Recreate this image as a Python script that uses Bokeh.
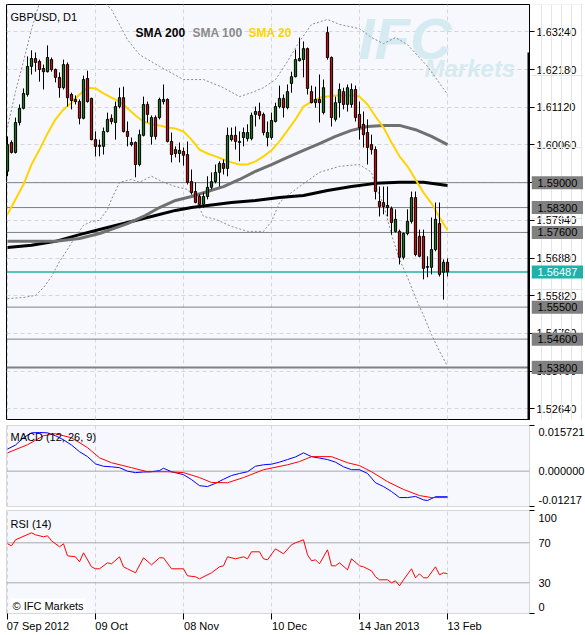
from bokeh.plotting import figure
from bokeh.models import ColumnDataSource, FixedTicker, Range1d, Label, Span, PrintfTickFormatter
from bokeh.layouts import column, row
from bokeh.core.properties import value
from bokeh.embed import file_html
from bokeh.resources import INLINE

# ---------------- data ----------------
date_labels = ["07 Sep 2012", "09 Oct", "08 Nov", "10 Dec", "14 Jan 2013", "13 Feb"]
date_index = [0, 22, 44, 66, 88, 110]

opens = [1.5932, 1.6013, 1.5985, 1.6069, 1.6109, 1.6148, 1.6227, 1.6249, 1.6241, 1.6221,
         1.6212, 1.6246, 1.6218, 1.6196, 1.6167, 1.6232, 1.6148, 1.6134, 1.6128, 1.6081,
         1.6193, 1.6137, 1.6021, 1.6005, 1.6002, 1.6044, 1.6081, 1.6069, 1.6114, 1.6139,
         1.6044, 1.6007, 1.6013, 1.5951, 1.6033, 1.6120, 1.6030, 1.6083, 1.6083, 1.6128,
         1.6134, 1.6016, 1.5993, 1.5982, 1.5988, 1.5979, 1.5903, 1.5875, 1.5861, 1.5839,
         1.5861, 1.5887, 1.5903, 1.5929, 1.5954, 1.5940, 1.6021, 1.6033, 1.6013, 1.6027,
         1.6024, 1.6024, 1.6092, 1.6100, 1.6092, 1.6027, 1.6027, 1.6072, 1.6114, 1.6137,
         1.6111, 1.6179, 1.6198, 1.6243, 1.6246, 1.6277, 1.6156, 1.6125, 1.6134, 1.6097,
         1.6322, 1.6252, 1.6078, 1.6125, 1.6156, 1.6120, 1.6120, 1.6162, 1.6092, 1.6064,
         1.6041, 1.6007, 1.5993, 1.5847, 1.5844, 1.5830, 1.5827, 1.5763, 1.5763, 1.5690,
         1.5757, 1.5791, 1.5858, 1.5749, 1.5749, 1.5662, 1.5662, 1.5712, 1.5785, 1.5648,
         1.5676]
highs = [1.6030, 1.6019, 1.6083, 1.6120, 1.6165, 1.6255, 1.6272, 1.6266, 1.6246, 1.6232,
         1.6286, 1.6252, 1.6221, 1.6210, 1.6246, 1.6238, 1.6153, 1.6145, 1.6134, 1.6201,
         1.6215, 1.6139, 1.6044, 1.6021, 1.6055, 1.6097, 1.6092, 1.6128, 1.6167, 1.6170,
         1.6072, 1.6027, 1.6016, 1.6049, 1.6142, 1.6128, 1.6089, 1.6089, 1.6139, 1.6176,
         1.6137, 1.6041, 1.6002, 1.6013, 1.5999, 1.6016, 1.5937, 1.5901, 1.5867, 1.5872,
         1.5918, 1.5929, 1.5951, 1.5960, 1.5965, 1.6055, 1.6055, 1.6058, 1.6044, 1.6055,
         1.6064, 1.6097, 1.6114, 1.6125, 1.6097, 1.6072, 1.6097, 1.6125, 1.6173, 1.6148,
         1.6176, 1.6212, 1.6274, 1.6308, 1.6297, 1.6280, 1.6173, 1.6170, 1.6204, 1.6190,
         1.6339, 1.6255, 1.6142, 1.6179, 1.6167, 1.6176, 1.6179, 1.6173, 1.6128, 1.6100,
         1.6078, 1.6035, 1.6002, 1.5889, 1.5889, 1.5889, 1.5833, 1.5825, 1.5768, 1.5760,
         1.5825, 1.5875, 1.5875, 1.5768, 1.5768, 1.5693, 1.5802, 1.5844, 1.5844, 1.5684,
         1.5687]
lows = [1.5918, 1.5982, 1.5982, 1.6061, 1.6106, 1.6142, 1.6204, 1.6212, 1.6184, 1.6162,
        1.6210, 1.6212, 1.6182, 1.6139, 1.6162, 1.6114, 1.6106, 1.6120, 1.6064, 1.6078,
        1.6125, 1.6019, 1.5974, 1.5974, 1.5979, 1.6041, 1.6064, 1.6021, 1.6109, 1.6041,
        1.6002, 1.6002, 1.5915, 1.5946, 1.6030, 1.6069, 1.6007, 1.6021, 1.6078, 1.6120,
        1.6013, 1.5957, 1.5971, 1.5957, 1.5948, 1.5895, 1.5867, 1.5842, 1.5833, 1.5830,
        1.5853, 1.5881, 1.5898, 1.5889, 1.5923, 1.5918, 1.6016, 1.5993, 1.5960, 1.6002,
        1.6016, 1.6019, 1.6058, 1.6078, 1.6033, 1.6002, 1.6021, 1.6069, 1.6109, 1.6083,
        1.6106, 1.6153, 1.6196, 1.6241, 1.6196, 1.6148, 1.6123, 1.6111, 1.6069, 1.6092,
        1.6246, 1.6058, 1.6072, 1.6083, 1.6106, 1.6100, 1.6111, 1.6072, 1.6021, 1.5999,
        1.5951, 1.5979, 1.5853, 1.5805, 1.5811, 1.5805, 1.5754, 1.5760, 1.5670, 1.5684,
        1.5752, 1.5785, 1.5693, 1.5690, 1.5628, 1.5634, 1.5642, 1.5707, 1.5636, 1.5571,
        1.5636]
closes = [1.6007, 1.5985, 1.6069, 1.6109, 1.6151, 1.6227, 1.6249, 1.6238, 1.6218, 1.6212,
          1.6252, 1.6218, 1.6196, 1.6167, 1.6232, 1.6139, 1.6131, 1.6128, 1.6081, 1.6190,
          1.6128, 1.6021, 1.6002, 1.6002, 1.6044, 1.6078, 1.6072, 1.6114, 1.6139, 1.6044,
          1.6030, 1.6013, 1.5951, 1.6035, 1.6120, 1.6092, 1.6083, 1.6030, 1.6134, 1.6134,
          1.6016, 1.5979, 1.5982, 1.5991, 1.5977, 1.5901, 1.5872, 1.5844, 1.5839, 1.5861,
          1.5887, 1.5903, 1.5929, 1.5954, 1.5940, 1.6033, 1.6033, 1.6016, 1.6016, 1.6041,
          1.6041, 1.6089, 1.6100, 1.6089, 1.6041, 1.6041, 1.6075, 1.6114, 1.6137, 1.6111,
          1.6156, 1.6198, 1.6246, 1.6249, 1.6277, 1.6165, 1.6125, 1.6134, 1.6125, 1.6167,
          1.6252, 1.6083, 1.6125, 1.6162, 1.6120, 1.6167, 1.6162, 1.6083, 1.6055, 1.6035,
          1.5999, 1.5993, 1.5875, 1.5833, 1.5833, 1.5836, 1.5788, 1.5797, 1.5690, 1.5757,
          1.5791, 1.5858, 1.5698, 1.5693, 1.5659, 1.5664, 1.5712, 1.5797, 1.5642, 1.5676,
          1.56487]

sma20_idx = [0, 4, 6, 8, 10, 12, 14, 16, 18, 20, 22, 24, 26, 28, 30, 32, 34, 36, 38, 40,
             42, 44, 46, 48, 50, 52, 54, 56, 58, 60, 62, 64, 66, 68, 70, 72, 74, 76, 78, 80,
             82, 84, 86, 88, 90, 92, 94, 96, 98, 100, 102, 104, 106, 108, 110]
sma20 = [1.5811, 1.5895, 1.5951, 1.5993, 1.6038, 1.6078, 1.6106, 1.6125, 1.6148, 1.6167,
         1.6165, 1.6151, 1.6139, 1.6128, 1.6109, 1.6089, 1.6072, 1.6064, 1.6061, 1.6055,
         1.6052, 1.6044, 1.6021, 1.5993, 1.5982, 1.5974, 1.5965, 1.5957, 1.5951, 1.5951,
         1.5960, 1.5974, 1.5991, 1.6016, 1.6047, 1.6078, 1.6114, 1.6128, 1.6139, 1.6142,
         1.6145, 1.6145, 1.6145, 1.6142, 1.6120, 1.6086, 1.6055, 1.6013, 1.5974, 1.5946,
         1.5909, 1.5872, 1.5842, 1.5802, 1.5766]

sma100_idx = [0, 6, 12, 18, 23, 30, 34, 38, 42, 46, 50, 54, 58, 62, 66, 70, 74, 78, 82, 86,
              90, 94, 98, 102, 106, 110]
sma100 = [1.5735, 1.5735, 1.5735, 1.5743, 1.5757, 1.5785, 1.5805, 1.5830, 1.5850, 1.5861,
          1.5875, 1.5889, 1.5909, 1.5932, 1.5951, 1.5971, 1.5991, 1.6010, 1.6030, 1.6047,
          1.6058, 1.6061, 1.6061, 1.6049, 1.6030, 1.6007]

sma200_idx = [0, 6, 12, 18, 24, 30, 36, 42, 46, 50, 56, 62, 68, 74, 80, 86, 92, 98, 104, 110]
sma200 = [1.5718, 1.5724, 1.5735, 1.5754, 1.5771, 1.5788, 1.5805, 1.5822, 1.5830, 1.5836,
          1.5844, 1.5850, 1.5858, 1.5864, 1.5878, 1.5889, 1.5898, 1.5901, 1.5901, 1.5892]

bb_up_idx = [0, 2, 4, 6, 8, 10, 14, 18, 22, 24, 26, 28, 30, 33, 38, 44, 49, 54, 58, 61,
             64, 67, 70, 73, 76, 80, 83, 88, 91, 94, 97, 100, 105, 110]
bb_up = [1.6055, 1.6156, 1.6241, 1.6331, 1.6406, 1.6457, 1.6485, 1.6485, 1.6457, 1.6409,
         1.6387, 1.6345, 1.6302, 1.6260, 1.6227, 1.6190, 1.6190, 1.6167, 1.6142, 1.6153,
         1.6167, 1.6190, 1.6241, 1.6297, 1.6345, 1.6359, 1.6345, 1.6333, 1.6308, 1.6291,
         1.6308, 1.6288, 1.6227, 1.6148]

bb_lo_idx = [0, 4, 7, 9, 11, 13, 15, 17, 19, 21, 23, 25, 26, 28, 31, 33, 36, 39, 42, 45,
             47, 49, 52, 56, 60, 64, 66, 68, 70, 73, 78, 83, 88, 91, 92, 94, 96, 98, 100, 102,
             104, 106, 108, 110]
bb_lo = [1.5574, 1.5577, 1.5583, 1.5605, 1.5636, 1.5678, 1.5712, 1.5749, 1.5780, 1.5791,
         1.5794, 1.5825, 1.5853, 1.5901, 1.5909, 1.5901, 1.5918, 1.5901, 1.5889, 1.5881,
         1.5853, 1.5805, 1.5797, 1.5777, 1.5763, 1.5763, 1.5791, 1.5844, 1.5864, 1.5889,
         1.5929, 1.5946, 1.5951, 1.5929, 1.5889, 1.5839, 1.5754, 1.5684, 1.5634, 1.5577,
         1.5527, 1.5473, 1.5426, 1.5384]

level_prices = [1.59000, 1.58300, 1.57600, 1.55500, 1.54600, 1.53800]
last_price = 1.56487
price_ticks = [1.52640, 1.53700, 1.54760, 1.55820, 1.56880, 1.57940, 1.59000,
               1.60060, 1.61120, 1.62180, 1.63240]

macd_idx = [0, 2, 4, 6, 8, 10, 12, 14, 16, 18, 20, 22, 24, 26, 28, 30, 32, 34, 36, 38,
            39, 41, 44, 46, 48, 50, 52, 54, 56, 58, 60, 62, 64, 66, 68, 70, 72, 74, 76, 78,
            80, 82, 84, 86, 88, 90, 92, 94, 96, 98, 100, 102, 104, 105, 107, 110]
macd = [0.0076, 0.0090, 0.0115, 0.0132, 0.0133, 0.0132, 0.0122, 0.0108, 0.0090, 0.0067,
        0.0050, 0.0025, 0.0017, 0.0015, 0.0012, 0.0000, -0.0005, -0.0003, -0.0002, 0.0002,
        0.0010, -0.0002, -0.0012, -0.0029, -0.0050, -0.0053, -0.0042, -0.0028, -0.0015, -0.0008,
        -0.0002, 0.0017, 0.0022, 0.0024, 0.0031, 0.0040, 0.0049, 0.0063, 0.0050, 0.0045,
        0.0040, 0.0031, 0.0015, 0.0005, 0.0005, -0.0008, -0.0040, -0.0053, -0.0070, -0.0091,
        -0.0091, -0.0087, -0.0099, -0.0101, -0.0088, -0.0088]
signal_idx = [0, 5, 9, 12, 16, 20, 23, 26, 31, 35, 40, 44, 48, 51, 55, 59, 64, 70, 73, 76,
              81, 85, 88, 91, 95, 99, 103, 106, 110]
signal = [0.0063, 0.0091, 0.0122, 0.0129, 0.0115, 0.0081, 0.0046, 0.0029, 0.0012, -0.0002,
          -0.0002, -0.0005, -0.0022, -0.0039, -0.0040, -0.0022, 0.0005, 0.0022, 0.0033, 0.0050,
          0.0050, 0.0029, 0.0019, -0.0002, -0.0036, -0.0063, -0.0084, -0.0091, -0.0091]
macd_top, macd_bottom = 0.015721, -0.01217

rsi_idx = [0, 1, 2, 6, 7, 9, 10, 11, 13, 14, 15, 17, 18, 19, 21, 22, 23, 25, 26, 28,
           29, 30, 32, 34, 36, 38, 39, 41, 44, 45, 47, 48, 51, 53, 54, 55, 57, 59, 60, 61,
           63, 64, 65, 67, 69, 71, 72, 74, 75, 76, 77, 78, 80, 81, 82, 83, 85, 86, 88, 89,
           91, 92, 93, 95, 96, 97, 98, 99, 101, 102, 103, 104, 105, 107, 108, 109, 110]
rsi = [69, 67, 73, 80, 78, 76, 77, 72, 66, 69, 57, 56, 51, 60, 46, 44, 44, 50, 49, 56,
       46, 44, 40, 55, 48, 55, 55, 44, 44, 37, 36, 34, 40, 46, 47, 56, 54, 56, 54, 61,
       61, 54, 53, 64, 59, 68, 70, 73, 58, 52, 53, 49, 63, 47, 47, 50, 43, 54, 47, 46,
       42, 36, 33, 33, 30, 32, 27, 33, 44, 35, 39, 35, 35, 46, 38, 40, 39]
rsi_levels = [70, 30]

# ---------------- style ----------------
FONT = "Liberation Sans"
BG = "#f7f8fd"
GRID = "#d6d6d6"
X0, X1 = -0.25, 130.5
FW = 523
MAIN_H = 415
xr = Range1d(X0, X1)


def make_fig(frame_h, yr, outline, bottom_border, with_xaxis=False):
    f = figure(frame_width=FW, frame_height=frame_h, x_range=xr, y_range=yr,
               output_backend="svg", toolbar_location=None, y_axis_location="right",
               x_axis_location="below" if with_xaxis else None,
               min_border_left=0, min_border_top=0, min_border_right=52,
               min_border_bottom=bottom_border)
    f.background_fill_color = BG
    f.border_fill_color = "white"
    f.outline_line_color = outline
    f.xgrid.ticker = FixedTicker(ticks=date_index)
    f.xgrid.grid_line_color = GRID
    f.xgrid.grid_line_dash = "4 3"
    ax = f.yaxis[0]
    ax.major_label_text_font = FONT
    ax.major_label_text_font_size = "11px"
    ax.major_label_text_color = "black"
    return f


# ---------------- main price panel ----------------
Y0, Y1 = 1.5234, 1.6401
yr_main = Range1d(Y0, Y1)
p = make_fig(MAIN_H, yr_main, "black", 6)
ya = p.yaxis[0]
ya.ticker = FixedTicker(ticks=price_ticks)
ya.formatter = PrintfTickFormatter(format="%.5f")
ya.major_tick_out = 5
ya.major_tick_in = 0
ya.minor_tick_line_color = None
ya.major_label_standoff = 2
ya.axis_line_color = "black"
p.ygrid.ticker = FixedTicker(ticks=price_ticks)
p.ygrid.grid_line_color = GRID
p.ygrid.grid_line_dash = "4 3"

for lv in level_prices:
    p.add_layout(Span(location=lv, dimension="width", line_color="#808080",
                      line_width=2 if lv == level_prices[-1] else 1, level="underlay"))
p.add_layout(Span(location=last_price, dimension="width", line_color="#20b2aa",
                  line_width=1.5, level="underlay"))

# watermark
p.add_layout(Label(x=X0, y=Y1, x_offset=352, y_offset=-34, text="IFC", text_font=FONT,
                   text_font_size="58px", text_font_style="bold italic", text_color="#d6ebf1",
                   text_baseline="middle", level="underlay"))
p.add_layout(Label(x=X0, y=Y1, x_offset=418, y_offset=-64, text="Markets", text_font=FONT,
                   text_font_size="24px", text_font_style="bold italic", text_color="#d6ebf1",
                   text_baseline="middle", level="underlay"))

# Bollinger bands and moving averages
p.line(bb_up_idx, bb_up, line_color="#8a8a8a", line_width=1, line_dash="2 2")
p.line(bb_lo_idx, bb_lo, line_color="#8a8a8a", line_width=1, line_dash="2 2")
p.line(sma200_idx, sma200, line_color="black", line_width=3)
p.line(sma100_idx, sma100, line_color="#707070", line_width=3)
p.line(sma20_idx, sma20, line_color="#ffd400", line_width=2)

# candles
idx = list(range(len(closes)))
up = [c >= o for o, c in zip(opens, closes)]
src = ColumnDataSource(dict(
    x=idx, high=highs, low=lows,
    top=[max(o, c) for o, c in zip(opens, closes)],
    bottom=[min(o, c) for o, c in zip(opens, closes)],
    color=["#0a7d0a" if u else "#dd0000" for u in up]))
p.segment(x0="x", y0="low", x1="x", y1="high", source=src, line_color="black", line_width=1)
p.vbar(x="x", width=0.55, top="top", bottom="bottom", source=src,
       fill_color="color", line_color="black", line_width=1)

# thick part of the right edge
p.segment(x0=[X1], y0=[1.6266], x1=[X1], y1=[Y0], line_color="black", line_width=4)

# titles
p.add_layout(Label(x=X0, y=Y1, x_offset=4, y_offset=-12, text="GBPUSD, D1", text_font=FONT,
                   text_font_size="11px", text_color="black", text_baseline="middle"))
for txt, off, col in [("SMA 200", 129, "black"), ("SMA 100", 186, "#8a8a8a"),
                      ("SMA 20", 242, "#ffd400")]:
    p.add_layout(Label(x=X0, y=Y1, x_offset=off, y_offset=-28, text=txt, text_font=FONT,
                       text_font_size="12px", text_font_style="bold", text_color=col,
                       text_baseline="middle"))

# ---------------- price-level boxes, overlaid on the price axis ----------------
BW = 52
bf = figure(frame_width=BW, frame_height=MAIN_H, x_range=Range1d(0, BW), y_range=yr_main,
            output_backend="svg", toolbar_location=None, x_axis_location=None,
            y_axis_location=None, min_border_left=0, min_border_right=0, min_border_top=0,
            min_border_bottom=6, margin=(0, 0, 0, -50))
bf.background_fill_color = None
bf.border_fill_color = None
bf.outline_line_color = None
box_src = ColumnDataSource(dict(
    y=level_prices + [last_price],
    label=[f"{v:.5f}" for v in level_prices] + [f"{last_price:.5f}"],
    fill=["#808080"] * len(level_prices) + ["#20b2aa"],
    tcol=["black"] * len(level_prices) + ["white"]))
bf.rect(x=BW / 2, y="y", width=BW, height=13, height_units="screen", source=box_src,
        fill_color="fill", line_color=None)
bf.text(x=6, y="y", text="label", source=box_src, text_color="tcol",
        text_font=value(FONT), text_font_size="11px", text_baseline="middle")

# ---------------- MACD panel ----------------
m = make_fig(81, Range1d(macd_bottom, macd_top), "#d8d8d8", 4)
m.ygrid.grid_line_color = None
macd_label_pos = [0.01355, 0.0, -0.00978]
ma = m.yaxis[0]
ma.ticker = FixedTicker(ticks=macd_label_pos, minor_ticks=[0.01560, -0.01210])
ma.major_label_overrides = {macd_label_pos[0]: "0.015721", macd_label_pos[1]: "0.000000",
                            macd_label_pos[2]: "-0.01217"}
ma.major_tick_line_color = None
ma.major_tick_out = 0
ma.major_label_standoff = 4
ma.minor_tick_out = 5
ma.minor_tick_in = 0
ma.minor_tick_line_color = "black"
ma.axis_line_color = None
m.add_layout(Span(location=0, dimension="width", line_color="#a8a8a8", line_width=1,
                  level="underlay"))
m.line(macd_idx, macd, line_color="#0000ff", line_width=1)
m.line(signal_idx, signal, line_color="#ff0000", line_width=1)
m.add_layout(Label(x=X0, y=macd_top, x_offset=4, y_offset=-11, text="MACD (12, 26, 9)",
                   text_font=FONT, text_font_size="11px", text_color="black",
                   text_baseline="middle"))

# ---------------- RSI panel ----------------
r = make_fig(103, Range1d(-0.7, 102.3), "#d8d8d8", 0, with_xaxis=True)
r.ygrid.grid_line_color = None
rsi_label_pos = [95, 70, 30, 6]
ra = r.yaxis[0]
ra.ticker = FixedTicker(ticks=rsi_label_pos, minor_ticks=[102, -0.5])
ra.major_label_overrides = {95: "100", 70: "70", 30: "30", 6: "0"}
ra.major_tick_line_color = None
ra.major_tick_out = 0
ra.major_label_standoff = 4
ra.minor_tick_out = 5
ra.minor_tick_in = 0
ra.minor_tick_line_color = "black"
ra.axis_line_color = None
for lv in rsi_levels:
    r.add_layout(Span(location=lv, dimension="width", line_color="#a8a8a8", line_width=1,
                      level="underlay"))
r.line(rsi_idx, rsi, line_color="#ff0000", line_width=1)
r.add_layout(Label(x=X0, y=102.3, x_offset=4, y_offset=-13, text="RSI (14)",
                   text_font=FONT, text_font_size="11px", text_color="black",
                   text_baseline="middle"))
r.add_layout(Label(x=X0, y=-0.7, x_offset=4, y_offset=8, text="\u00a9 IFC Markets",
                   text_font=FONT, text_font_size="11px", text_color="black",
                   text_baseline="middle", background_fill_color="white",
                   padding=(2, 2, 1, 1)))

# date axis: labels start at the tick (left aligned look)
label_shift = [7.6, 4.0, 4.5, 4.5, 7.4, 4.25]
xlab_pos = [i + s for i, s in zip(date_index, label_shift)]
xa = r.xaxis[0]
xa.ticker = FixedTicker(ticks=xlab_pos, minor_ticks=date_index)
xa.major_label_overrides = {pos: lab for pos, lab in zip(xlab_pos, date_labels)}
xa.major_tick_line_color = None
xa.major_tick_out = 0
xa.major_label_standoff = 0
xa.minor_tick_out = 6
xa.minor_tick_in = 0
xa.minor_tick_line_color = "black"
xa.axis_line_color = None
xa.major_label_text_font = FONT
xa.major_label_text_font_size = "11px"
xa.major_label_text_color = "black"

layout = column(row(p, bf), m, r, margin=(4, 0, 0, 6))
open("out.html", "w").write(file_html(layout, INLINE))
